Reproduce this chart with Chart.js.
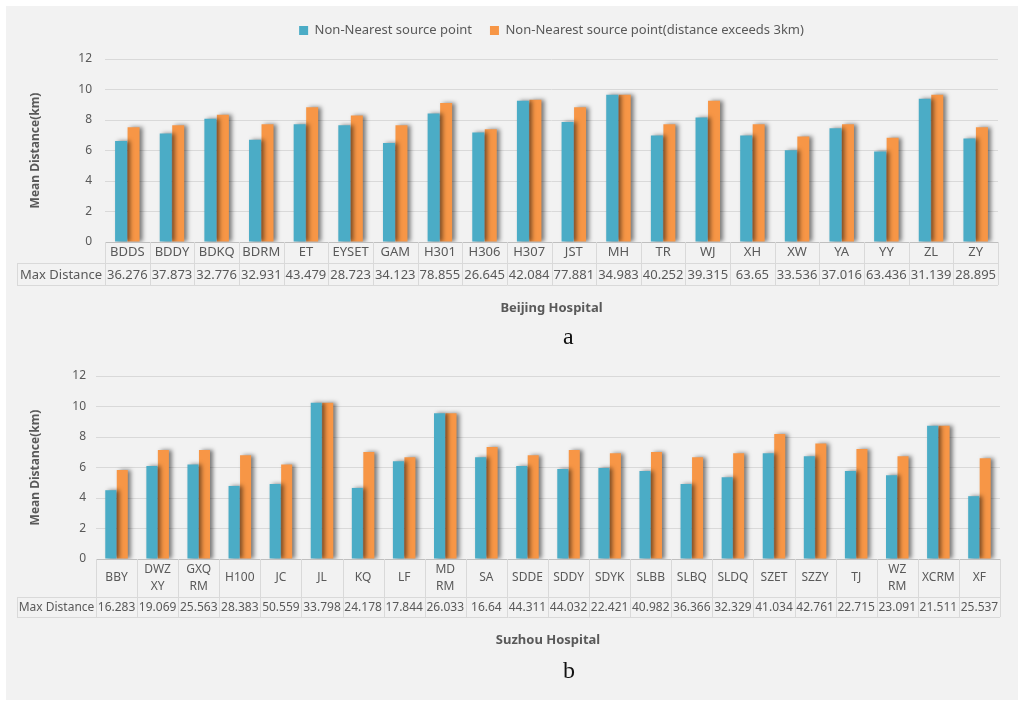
<!DOCTYPE html>
<html>
<head>
<meta charset="utf-8">
<script src="https://cdn.jsdelivr.net/npm/chart.js@4.4.0/dist/chart.umd.min.js"></script>
<style>
  body { margin: 0; background: #fff; width: 1024px; height: 704px; overflow: hidden; position: relative; }
  #bg { position: absolute; left: 6px; top: 6px; width: 1012px; height: 694px; background: #f2f2f2; }
  canvas { position: absolute; }
  #chartA { left: 6px; top: 6px; }
  #chartB { left: 6px; top: 352px; }
  .tag { position: absolute; font-family: "Liberation Serif", "DejaVu Serif", serif; font-size: 24px; color: #111; }
</style>
</head>
<body>
<div id="bg"></div>
<canvas id="chartA" width="1012" height="320"></canvas>
<div class="tag" style="left:563px;top:323px">a</div>
<canvas id="chartB" width="1012" height="310"></canvas>
<div class="tag" style="left:563px;top:657px">b</div>

<script>
// Beijing hospitals
const beijingSites = ["BDDS", "BDDY", "BDKQ", "BDRM", "ET", "EYSET", "GAM", "H301", "H306", "H307",
  "JST", "MH", "TR", "WJ", "XH", "XW", "YA", "YY", "ZL", "ZY"];
const beijingNonNearest = [6.62, 7.11, 8.09, 6.70, 7.72, 7.66, 6.49, 8.42, 7.18, 9.26,
  7.87, 9.65, 6.98, 8.16, 6.98, 6.01, 7.46, 5.94, 9.39, 6.79];
const beijingOver3km = [7.53, 7.66, 8.35, 7.72, 8.83, 8.29, 7.66, 9.11, 7.40, 9.33,
  8.83, 9.65, 7.72, 9.26, 7.72, 6.92, 7.72, 6.83, 9.65, 7.53];
const beijingMaxDist = [36.276, 37.873, 32.776, 32.931, 43.479, 28.723, 34.123, 78.855, 26.645, 42.084,
  77.881, 34.983, 40.252, 39.315, 63.65, 33.536, 37.016, 63.436, 31.139, 28.895];

// Suzhou hospitals
const suzhouSites = ["BBY", ["DWZ", "XY"], ["GXQ", "RM"], "H100", "JC", "JL", "KQ", "LF", ["MD", "RM"], "SA",
  "SDDE", "SDDY", "SDYK", "SLBB", "SLBQ", "SLDQ", "SZET", "SZZY", "TJ", ["WZ", "RM"], "XCRM", "XF"];
const suzhouNonNearest = [4.51, 6.10, 6.19, 4.79, 4.92, 10.24, 4.66, 6.41, 9.56, 6.67,
  6.10, 5.90, 5.97, 5.77, 4.92, 5.36, 6.93, 6.73, 5.77, 5.49, 8.74, 4.12];
const suzhouOver3km = [5.84, 7.15, 7.15, 6.80, 6.19, 10.24, 7.02, 6.67, 9.56, 7.34,
  6.80, 7.15, 6.93, 7.02, 6.67, 6.93, 8.19, 7.58, 7.21, 6.73, 8.74, 6.60];
const suzhouMaxDist = [16.283, 19.069, 25.563, 28.383, 50.559, 33.798, 24.178, 17.844, 26.033, 16.64,
  44.311, 44.032, 22.421, 40.982, 36.366, 32.329, 41.034, 42.761, 22.715, 23.091, 21.511, 25.537];

const seriesNames = ["Non-Nearest source point", "Non-Nearest source point(distance exceeds 3km)"];
const yTicks = [0, 2, 4, 6, 8, 10, 12];

const FONT = "'Noto Sans', 'Open Sans', sans-serif";
const TXT = "#595959";
const LINE = "#d9d9d9";

// soft gray shadow behind the bars, like the office chart
const barShadow = {
  id: "barShadow",
  beforeDatasetsDraw(chart) {
    const c = chart.ctx;
    c.save();
    c.shadowColor = "rgba(0,0,0,0.5)";
    c.shadowBlur = 4;
    c.shadowOffsetX = 3;
    c.shadowOffsetY = 0;
  },
  afterDatasetsDraw(chart) {
    chart.ctx.restore();
  }
};

// extra room under the legend (only when it is shown)
const legendGap = {
  id: "legendGap",
  beforeInit(chart) {
    if (!chart.legend) return;
    const fit = chart.legend.fit;
    chart.legend.fit = function () {
      fit.bind(chart.legend)();
      if (this.options.display) this.height += 12;
    };
  }
};

// data table under the x axis (category row + Max Distance row)
const dataTable = {
  id: "dataTable",
  afterDraw(chart, args, opts) {
    const c = chart.ctx;
    const xs = chart.scales.x;
    const n = opts.labels.length;
    const w = xs.width / n;
    const top = chart.chartArea.bottom;
    const r1 = top + opts.rowHeights[0];
    const r2 = r1 + opts.rowHeights[1];
    c.save();
    c.strokeStyle = LINE;
    c.lineWidth = 1;
    c.beginPath();
    for (let i = 0; i <= n; i++) {
      const x = Math.round(xs.left + i * w) + 0.5;
      c.moveTo(x, top);
      c.lineTo(x, r2);
    }
    c.moveTo(opts.left + 0.5, r1);
    c.lineTo(opts.left + 0.5, r2);
    c.moveTo(opts.left, Math.round(r1) + 0.5);
    c.lineTo(xs.right, Math.round(r1) + 0.5);
    c.moveTo(opts.left, Math.round(r2) + 0.5);
    c.lineTo(xs.right, Math.round(r2) + 0.5);
    c.stroke();

    c.fillStyle = TXT;
    c.textAlign = "center";
    c.textBaseline = "middle";
    c.font = opts.fontSize + "px " + FONT;
    const lh = opts.fontSize + 5;
    opts.labels.forEach((lab, i) => {
      const cx = xs.left + (i + 0.5) * w;
      const lines = Array.isArray(lab) ? lab : [lab];
      const mid = (top + r1) / 2;
      lines.forEach((t, k) => {
        c.fillText(t, cx, mid + (k - (lines.length - 1) / 2) * lh);
      });
      c.fillText(String(opts.values[i]), cx, (r1 + r2) / 2 + 1);
    });
    c.fillText(opts.header, (opts.left + xs.left) / 2, (r1 + r2) / 2 + 1);
    c.restore();
  }
};

function makeChart(id, cfg) {
  return new Chart(id, {
    type: "bar",
    data: {
      labels: cfg.labels,
      datasets: [
        { label: seriesNames[0], data: cfg.a, backgroundColor: "#4bacc6", borderWidth: 0,
          categoryPercentage: 0.56, barPercentage: 0.96 },
        { label: seriesNames[1], data: cfg.b, backgroundColor: "#f79646", borderWidth: 0,
          categoryPercentage: 0.56, barPercentage: 0.96 }
      ]
    },
    plugins: [legendGap, barShadow, dataTable],
    options: {
      responsive: false,
      animation: false,
      layout: { padding: { top: cfg.padTop, right: cfg.padRight, left: 0, bottom: 0 } },
      plugins: {
        tooltip: { enabled: false },
        legend: {
          display: cfg.legend,
          fullSize: false,
          labels: {
            color: TXT, boxWidth: 9, boxHeight: 9, padding: 18,
            font: { family: FONT, size: 13 }
          }
        },
        dataTable: {
          labels: cfg.labels, values: cfg.max, header: "Max Distance",
          rowHeights: cfg.rows, left: cfg.tableLeft, fontSize: cfg.tableFont
        }
      },
      scales: {
        x: {
          grid: { display: false, drawTicks: false },
          border: { display: true, color: "#bfbfbf" },
          ticks: { display: false },
          title: {
            display: true, text: cfg.xTitle, color: TXT,
            font: { family: FONT, size: 13, weight: "bold" },
            padding: { top: 0, bottom: cfg.xTitlePad }
          },
          afterFit: (s) => { s.height = cfg.xHeight; }
        },
        y: {
          min: 0, max: 12,
          afterBuildTicks: (s) => { s.ticks = yTicks.map(v => ({ value: v })); },
          grid: { color: LINE, drawTicks: false },
          border: { display: false },
          ticks: { color: TXT, padding: cfg.tickPad, font: { family: FONT, size: 12 } },
          title: {
            display: true, text: "Mean Distance(km)", color: TXT,
            font: { family: FONT, size: 12, weight: "bold" },
            padding: { top: 22, bottom: 0 }
          },
          afterFit: (s) => { s.width = cfg.yWidth; }
        }
      }
    }
  });
}

makeChart("chartA", {
  labels: beijingSites, a: beijingNonNearest, b: beijingOver3km, max: beijingMaxDist,
  legend: true, padTop: 0, padRight: 20, yWidth: 99, tickPad: 13,
  xHeight: 84, xTitle: "Beijing Hospital", xTitlePad: 10,
  rows: [21, 22], tableLeft: 11, tableFont: 13
});

makeChart("chartB", {
  labels: suzhouSites, a: suzhouNonNearest, b: suzhouOver3km, max: suzhouMaxDist,
  legend: false, padTop: 24, padRight: 18, yWidth: 90, tickPad: 10,
  xHeight: 103, xTitle: "Suzhou Hospital", xTitlePad: 14,
  rows: [38, 20], tableLeft: 11, tableFont: 12
});
</script>
</body>
</html>
